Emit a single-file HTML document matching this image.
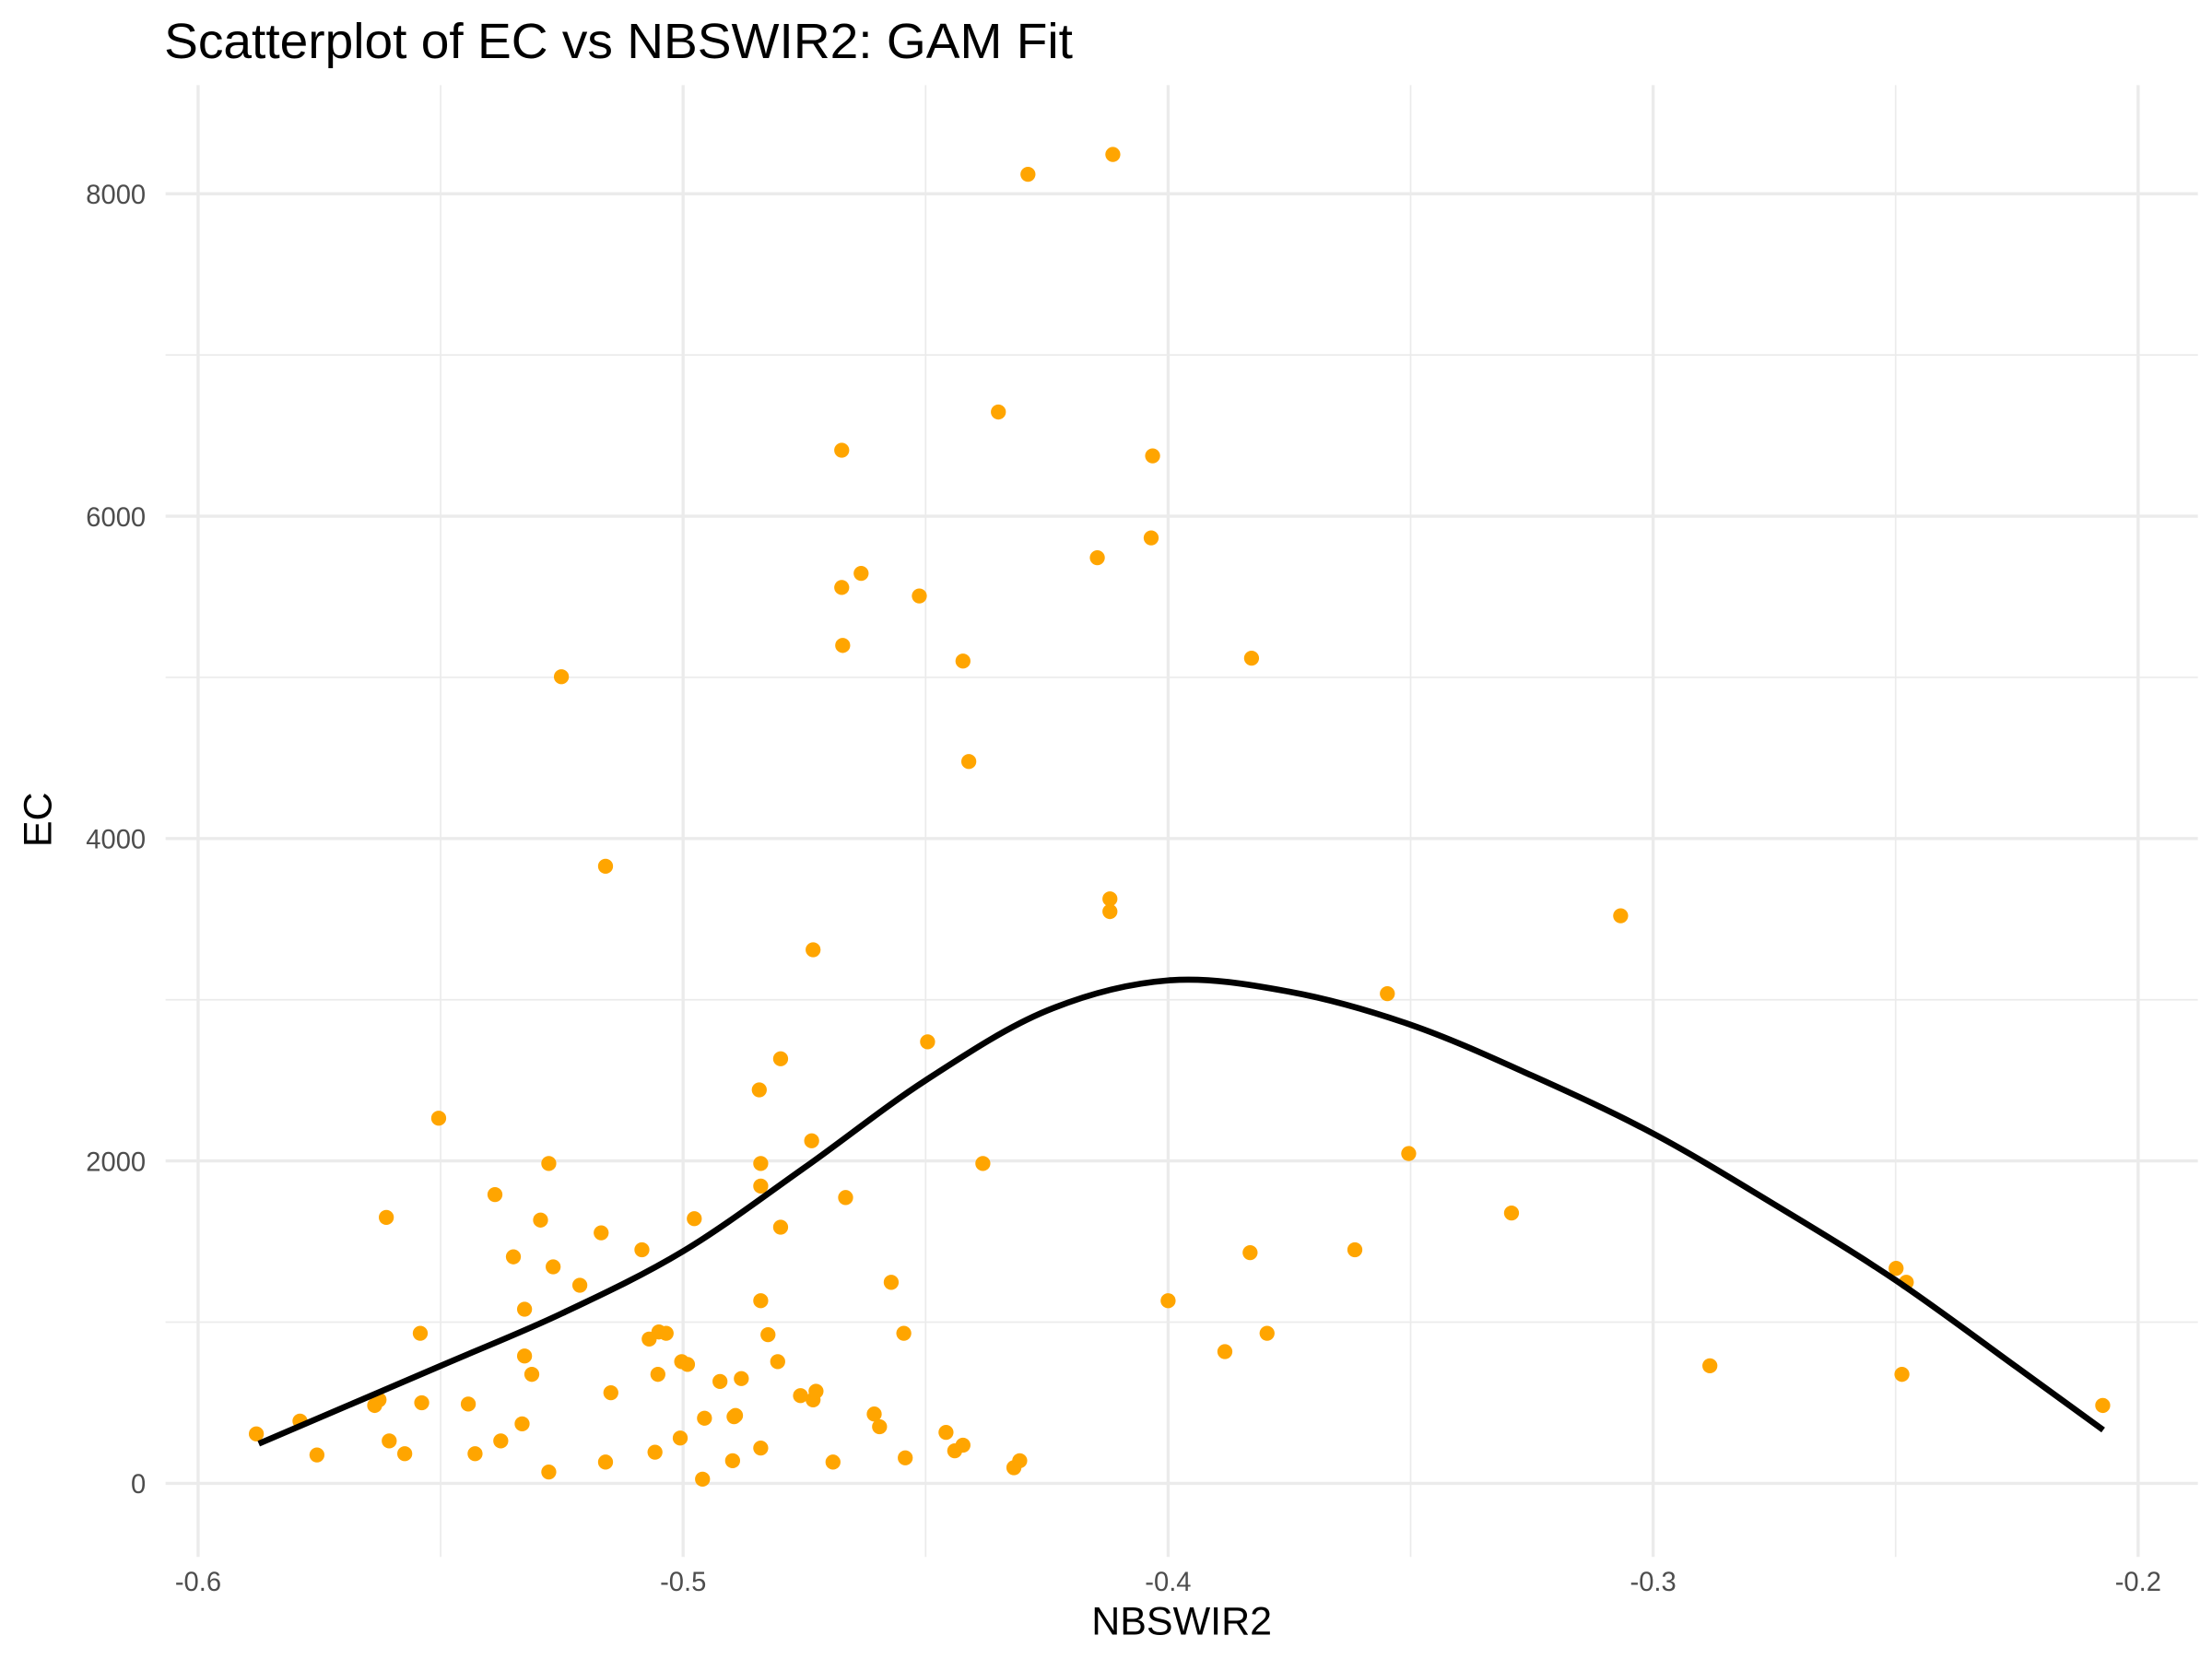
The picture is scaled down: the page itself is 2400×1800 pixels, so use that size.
<!DOCTYPE html>
<html><head><meta charset="utf-8"><style>
html,body{margin:0;padding:0;background:#fff;}
svg{display:block;font-family:"Liberation Sans",Arial,sans-serif;}
</style></head><body>
<svg id="chart" width="2400" height="1800" viewBox="0 0 1563 1172" xmlns="http://www.w3.org/2000/svg">
<rect width="1563" height="1172" fill="#fff"/>
<g id="grid"></g>
<g id="points"></g>
<g id="fit"></g>
<g id="axes"></g>
<text x="116" y="41" font-size="35" fill="#000" textLength="642" lengthAdjust="spacingAndGlyphs">Scatterplot of EC vs NBSWIR2: GAM Fit</text>
<text x="835" y="1155" font-size="28" text-anchor="middle" fill="#000">NBSWIR2</text>
<text transform="translate(36,579) rotate(-90)" font-size="28" text-anchor="middle" fill="#000">EC</text>
</svg>
<script>
const xs = [-0.588,-0.579,-0.5755,-0.5636,-0.5627,-0.5612,-0.5606,-0.5574,-0.5542,-0.5539,-0.5504,-0.5443,-0.5429,-0.5388,-0.5376,-0.535,-0.5332,-0.5327,-0.5327,-0.5312,-0.5294,-0.5277,-0.5277,-0.5268,-0.5251,-0.5213,-0.5169,-0.516,-0.516,-0.5149,-0.5085,-0.507,-0.5058,-0.5052,-0.505,-0.5035,-0.5006,-0.5003,-0.4991,-0.4977,-0.496,-0.4956,-0.4924,-0.4898,-0.4895,-0.4892,-0.488,-0.4843,-0.484,-0.484,-0.484,-0.484,-0.4825,-0.4805,-0.4799,-0.4799,-0.4758,-0.4735,-0.4732,-0.4732,-0.4726,-0.4691,-0.4673,-0.4673,-0.4671,-0.4665,-0.4633,-0.4606,-0.4595,-0.4571,-0.4545,-0.4542,-0.4513,-0.4496,-0.4458,-0.444,-0.4423,-0.4423,-0.4411,-0.4382,-0.435,-0.4318,-0.4306,-0.4289,-0.4146,-0.412,-0.412,-0.4114,-0.4035,-0.4032,-0.40,-0.3883,-0.3831,-0.3828,-0.3796,-0.3615,-0.3548,-0.3504,-0.3292,-0.3067,-0.2883,-0.2499,-0.2478,-0.2487,-0.2073];
const ys = [307,386,176,483,518,1650,263,184,931,500,2265,492,184,1791,263,1405,369,1080,790,676,1633,1984,70,1343,5004,1229,1554,3828,132,562,1449,895,193,676,939,931,281,755,738,1642,26,404,632,140,413,421,650,2441,219,1133,1844,1984,922,755,2634,1589,544,2125,3310,518,571,132,6409,5558,5198,1773,5645,430,351,1247,931,158,5505,2739,316,202,237,5101,4478,1984,6646,97,140,8121,5742,3626,3547,8244,5865,6374,1133,817,1431,5119,931,1449,3038,2046,1677,3521,729,1334,1247,676,483];
const fitX = [-0.5875,-0.55,-0.525,-0.5,-0.475,-0.45,-0.425,-0.4,-0.375,-0.35,-0.325,-0.3,-0.275,-0.25,-0.225,-0.2072];
const fitY = [246,729,1054,1440,1958,2500,2932,3120,3050,2845,2530,2170,1730,1260,720,331];
const xTicks = [-0.6,-0.5,-0.4,-0.3,-0.2];
const xTickLabels = ["-0.6","-0.5","-0.4","-0.3","-0.2"];
const yTicks = [0,2000,4000,6000,8000];
const yTickLabels = ["0","2000","4000","6000","8000"];
const NS="http://www.w3.org/2000/svg";
const X0=117,X1=1553,Y0=60,Y1=1100;
function sx(v){return 140+(v+0.6)*3427;}
function sy(v){return 1048-v*0.1139;}
function mk(tag,attrs,parent){const e=document.createElementNS(NS,tag);for(const k in attrs)e.setAttribute(k,attrs[k]);parent.appendChild(e);return e;}
const grid=document.getElementById('grid');
for(let i=0;i<xTicks.length-1;i++){const v=(xTicks[i]+xTicks[i+1])/2;
 const l=mk('line',{x1:sx(v),x2:sx(v),y1:Y0,y2:Y1,stroke:'#ebebeb','stroke-width':1.1},grid);
 
 }
for(let i=0;i<yTicks.length-1;i++){const v=(yTicks[i]+yTicks[i+1])/2;
 const l=mk('line',{x1:X0,x2:X1,y1:sy(v),y2:sy(v),stroke:'#ebebeb','stroke-width':1.1},grid);
 
 }
const axes=document.getElementById('axes');
xTicks.forEach((v,i)=>{
 const l=mk('line',{x1:sx(v),x2:sx(v),y1:Y0,y2:Y1,stroke:'#ebebeb','stroke-width':2.2},grid);
 
 
 const t=mk('text',{x:sx(v),y:1124,'font-size':19,'text-anchor':'middle',fill:'#4d4d4d'},axes);
 t.textContent=xTickLabels[i];
 
 });
yTicks.forEach((v,i)=>{
 const l=mk('line',{x1:X0,x2:X1,y1:sy(v),y2:sy(v),stroke:'#ebebeb','stroke-width':2.2},grid);
 
 
 const t=mk('text',{x:103,y:sy(v)+7,'font-size':19,'text-anchor':'end',fill:'#4d4d4d'},axes);
 t.textContent=yTickLabels[i];
 
 });
const pts=document.getElementById('points');
xs.forEach((v,i)=>{
 const c=mk('circle',{cx:sx(v),cy:sy(ys[i]),r:5.3,fill:'#FFA500'},pts);
 
 });
const P=fitX.map((v,i)=>[sx(v),sy(fitY[i])]);
let d='M'+P[0][0]+','+P[0][1];
for(let i=0;i<P.length-1;i++){const p0=P[Math.max(0,i-1)],p1=P[i],p2=P[i+1],p3=P[Math.min(P.length-1,i+2)];
 d+=' C'+(p1[0]+(p2[0]-p0[0])/6)+','+(p1[1]+(p2[1]-p0[1])/6)+' '+(p2[0]-(p3[0]-p1[0])/6)+','+(p2[1]-(p3[1]-p1[1])/6)+' '+p2[0]+','+p2[1];}
const path=mk('path',{d:d,fill:'none',stroke:'#000','stroke-width':4.3},document.getElementById('fit'));


</script>
</body></html>
